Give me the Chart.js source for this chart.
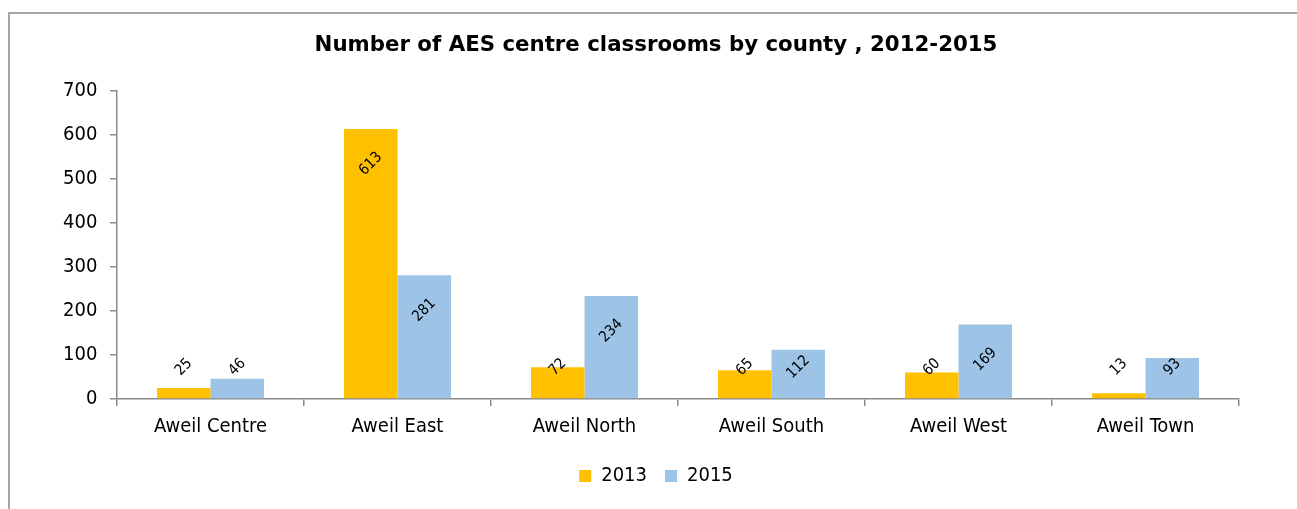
<!DOCTYPE html>
<html>
<head>
<meta charset="utf-8">
<script src="https://cdn.jsdelivr.net/npm/chart.js@4.4.1/dist/chart.umd.min.js"></script>
<style>
  html, body { margin: 0; padding: 0; background: #ffffff; overflow: hidden; }
  #wrap { position: relative; width: 1297px; height: 509px; }
</style>
</head>
<body>
<div id="wrap"><canvas id="chart" width="1297" height="509"></canvas></div>
<script>
// Classroom counts per county
const counties = ['Aweil Centre', 'Aweil East', 'Aweil North', 'Aweil South', 'Aweil West', 'Aweil Town'];
const seriesNames = ['2013', '2015'];
const values2013 = [25, 613, 72, 65, 60, 13];
const values2015 = [46, 281, 234, 112, 169, 93];
const yTicks = [0, 100, 200, 300, 400, 500, 600, 700];

const FONT = "'DejaVu Sans Condensed', 'DejaVu Sans', sans-serif";
const TITLE_FONT = "'DejaVu Sans', sans-serif";
const AXIS_GREY = '#8a8a8a';

// Frame around the whole chart
const framePlugin = {
  id: 'frame',
  beforeDraw(chart) {
    const ctx = chart.ctx;
    ctx.save();
    ctx.fillStyle = '#ffffff';
    ctx.fillRect(0, 0, chart.width, chart.height);
    ctx.strokeStyle = '#a6a6a6';
    ctx.lineWidth = 2;
    ctx.beginPath();
    ctx.moveTo(9, chart.height);
    ctx.lineTo(9, 13);
    ctx.lineTo(chart.width, 13);
    ctx.stroke();
    ctx.restore();
  }
};

// Rotated value labels near the top of each bar
const valueLabelPlugin = {
  id: 'valueLabels',
  afterDatasetsDraw(chart) {
    const ctx = chart.ctx;
    ctx.save();
    ctx.font = '15px ' + FONT;
    ctx.fillStyle = '#000000';
    ctx.textAlign = 'center';
    ctx.textBaseline = 'middle';
    chart.data.datasets.forEach((ds, di) => {
      const meta = chart.getDatasetMeta(di);
      meta.data.forEach((bar, i) => {
        const cy = Math.min(bar.y + 35, bar.base - 31);
        ctx.save();
        ctx.translate(bar.x, cy);
        ctx.rotate(-Math.PI / 4);
        ctx.fillText(String(ds.data[i]), 0, 0);
        ctx.restore();
      });
    });
    ctx.restore();
  }
};

new Chart(document.getElementById('chart'), {
  type: 'bar',
  data: {
    labels: counties,
    datasets: [
      { label: seriesNames[0], data: values2013, backgroundColor: '#ffc000' },
      { label: seriesNames[1], data: values2015, backgroundColor: '#9dc3e6' }
    ]
  },
  options: {
    responsive: false,
    animation: false,
    devicePixelRatio: 1,
    layout: { padding: { left: 73, right: 58, top: 0, bottom: 13 } },
    datasets: {
      bar: { categoryPercentage: 0.572, barPercentage: 1.0 }
    },
    scales: {
      x: {
        grid: {
          display: true,
          offset: true,
          drawOnChartArea: false,
          drawTicks: true,
          tickLength: 7,
          color: AXIS_GREY,
          lineWidth: 1.5
        },
        border: { display: true, color: AXIS_GREY, width: 1.5 },
        ticks: { color: '#000000', font: { family: FONT, size: 20 }, padding: 9, maxRotation: 0 },
        afterFit(scale) { scale.height = 49; }
      },
      y: {
        min: 0,
        max: 700,
        afterBuildTicks(scale) { scale.ticks = yTicks.map(v => ({ value: v })); },
        grid: {
          display: true,
          drawOnChartArea: false,
          drawTicks: true,
          tickLength: 7,
          color: AXIS_GREY,
          lineWidth: 1.5
        },
        border: { display: true, color: AXIS_GREY, width: 1.5 },
        // labels right-aligned to the left of the axis, outside the narrow axis box
        ticks: {
          color: '#000000',
          font: { family: FONT, size: 20 },
          mirror: true,
          crossAlign: 'far',
          padding: -54
        },
        afterFit(scale) { scale.width = 44; }
      }
    },
    plugins: {
      title: {
        display: true,
        text: 'Number of AES centre classrooms by county , 2012-2015',
        color: '#000000',
        font: { family: TITLE_FONT, size: 21.3, weight: 'bold' },
        padding: { top: 33, bottom: 32 }
      },
      legend: {
        position: 'bottom',
        labels: {
          color: '#000000',
          font: { family: FONT, size: 20 },
          boxWidth: 12,
          boxHeight: 12,
          padding: 18
        }
      },
      tooltip: { enabled: false }
    }
  },
  plugins: [framePlugin, valueLabelPlugin]
});
</script>
</body>
</html>
